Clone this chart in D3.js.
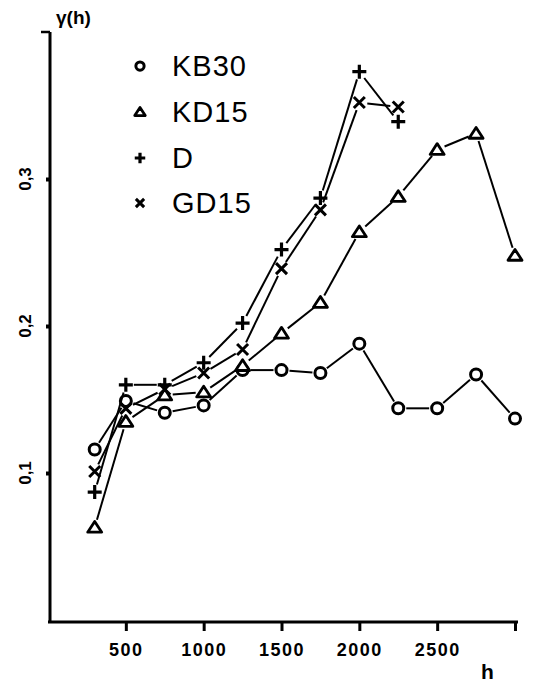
<!DOCTYPE html>
<html>
<head>
<meta charset="utf-8">
<script src="https://cdn.jsdelivr.net/npm/d3@7/dist/d3.min.js"></script>
<style>
  html, body { margin: 0; padding: 0; background: #fff; }
  svg { display: block; }
</style>
</head>
<body>
<div id="chart"></div>
<script>
// h values (lag distances)
const hValues = [300, 500, 750, 1000, 1250, 1500, 1750, 2000, 2250, 2500, 2750, 3000];

// variogram values
const kb30 = [0.116, 0.149, 0.141, 0.146, 0.170, 0.170, 0.168, 0.188, 0.144, 0.144, 0.167, 0.137];
const kd15 = [0.063, 0.135, 0.153, 0.155, 0.173, 0.195, 0.216, 0.264, 0.288, 0.320, 0.331, 0.248];
const dSeries = [0.087, 0.160, 0.160, 0.175, 0.202, 0.252, 0.287, 0.373, 0.339];
const gd15 = [0.101, 0.144, 0.157, 0.168, 0.184, 0.239, 0.279, 0.352, 0.349];

const seriesNames = ["KB30", "KD15", "D", "GD15"];
const seriesMarks = ["circle", "triangle", "plus", "times"];

const xTicks = [500, 1000, 1500, 2000, 2500, 3000];
const xTickLabels = ["500", "1000", "1500", "2000", "2500", ""];
const yTicks = [0.1, 0.2, 0.3];
const yTickLabels = ["0,1", "0,2", "0,3"];

const width = 543, height = 684;
const svg = d3.select("#chart").append("svg")
    .attr("width", width)
    .attr("height", height);

const x = d3.scaleLinear().domain([0, 3000]).range([48, 515]);
const y = d3.scaleLinear().domain([0, 0.4]).range([620, 32]);

const font = "'Liberation Sans', Arial, sans-serif";

// axes
const xAxis = svg.append("g")
    .attr("transform", `translate(0,${y(0) + 2})`)
    .call(d3.axisBottom(x).tickValues(xTicks)
        .tickFormat((d, i) => xTickLabels[i])
        .tickSize(9).tickSizeOuter(0).tickPadding(12));
xAxis.select(".domain").attr("stroke", "#000").attr("stroke-width", 3)
    .attr("d", `M${x(0)},0H${x(3000) + 3}`);
xAxis.selectAll(".tick line").attr("stroke", "#000").attr("stroke-width", 3);
xAxis.selectAll(".tick text")
    .attr("fill", "#000")
    .style("font-family", font)
    .style("font-weight", "bold")
    .style("font-size", "18px")
    .style("letter-spacing", "1.5px");

const yAxis = svg.append("g")
    .attr("transform", `translate(${x(0) + 2},0)`)
    .call(d3.axisLeft(y).tickValues(yTicks)
        .tickFormat(() => "")
        .tickSize(4).tickSizeOuter(0));
yAxis.select(".domain").attr("stroke", "#000").attr("stroke-width", 3)
    .attr("d", `M0,${y(0) + 3}V${y(0.4)}`);
yAxis.selectAll(".tick line").attr("stroke", "#000").attr("stroke-width", 4);

// small stub at the top of the y axis
svg.append("line")
    .attr("x1", x(0) - 7).attr("x2", x(0) + 2)
    .attr("y1", y(0.4)).attr("y2", y(0.4))
    .attr("stroke", "#000").attr("stroke-width", 2.5);

// rotated y tick labels
svg.selectAll("text.ylab")
    .data(yTicks)
    .enter().append("text")
    .attr("class", "ylab")
    .attr("transform", d => `translate(25,${y(d)}) rotate(-90)`)
    .attr("text-anchor", "middle")
    .attr("dy", "0.35em")
    .style("font-family", font)
    .style("font-weight", "bold")
    .style("font-size", "17px")
    .text((d, i) => yTickLabels[i]);

// axis titles
svg.append("text")
    .attr("x", 56).attr("y", 24)
    .style("font-family", font)
    .style("font-weight", "bold")
    .style("font-size", "19px")
    .text("γ(h)");

svg.append("text")
    .attr("x", 481).attr("y", 679)
    .style("font-family", font)
    .style("font-weight", "bold")
    .style("font-size", "21px")
    .text("h");

// marker drawing
function drawMark(g, type, cx, cy, s) {
    if (type === "circle") {
        g.append("circle").attr("cx", cx).attr("cy", cy).attr("r", 5.5 * s)
            .attr("fill", "#fff").attr("stroke", "#000").attr("stroke-width", 3);
    } else if (type === "triangle") {
        const w = 7 * s, h = 6 * s;
        g.append("path")
            .attr("d", `M${cx},${cy - h}L${cx + w},${cy + h * 0.8}L${cx - w},${cy + h * 0.8}Z`)
            .attr("fill", "#fff").attr("stroke", "#000").attr("stroke-width", 2.8)
            .attr("stroke-linejoin", "round");
    } else if (type === "plus") {
        const r = 7 * s;
        g.append("path")
            .attr("d", `M${cx - r},${cy}H${cx + r}M${cx},${cy - r}V${cy + r}`)
            .attr("stroke", "#000").attr("stroke-width", 3.2);
    } else {
        const r = 5.5 * s;
        g.append("path")
            .attr("d", `M${cx - r},${cy - r}L${cx + r},${cy + r}M${cx + r},${cy - r}L${cx - r},${cy + r}`)
            .attr("stroke", "#000").attr("stroke-width", 3);
    }
}

const allSeries = [kb30, kd15, dSeries, gd15];
const gap = 8;

allSeries.forEach((vals, si) => {
    const pts = vals.map((v, i) => [x(hValues[i]), y(v)]);
    const g = svg.append("g").attr("class", "series-" + seriesNames[si]);
    // segments, stopping short of the markers
    for (let i = 0; i < pts.length - 1; i++) {
        const [x1, y1] = pts[i], [x2, y2] = pts[i + 1];
        const len = Math.hypot(x2 - x1, y2 - y1);
        const ux = (x2 - x1) / len, uy = (y2 - y1) / len;
        g.append("line")
            .attr("x1", x1 + ux * gap).attr("y1", y1 + uy * gap)
            .attr("x2", x2 - ux * gap).attr("y2", y2 - uy * gap)
            .attr("stroke", "#000").attr("stroke-width", 2);
    }
    pts.forEach(p => drawMark(g, seriesMarks[si], p[0], p[1], 1));
});

// legend
const legendY = [66, 112, 158, 203];
const legend = svg.append("g").attr("class", "legend");
seriesNames.forEach((name, i) => {
    drawMark(legend, seriesMarks[i], 140, legendY[i], 0.75);
    legend.append("text")
        .attr("x", 172).attr("y", legendY[i])
        .attr("dy", "0.36em")
        .style("font-family", font)
        .style("font-size", "29px")
        .style("letter-spacing", "1px")
        .text(name);
});
</script>
</body>
</html>
